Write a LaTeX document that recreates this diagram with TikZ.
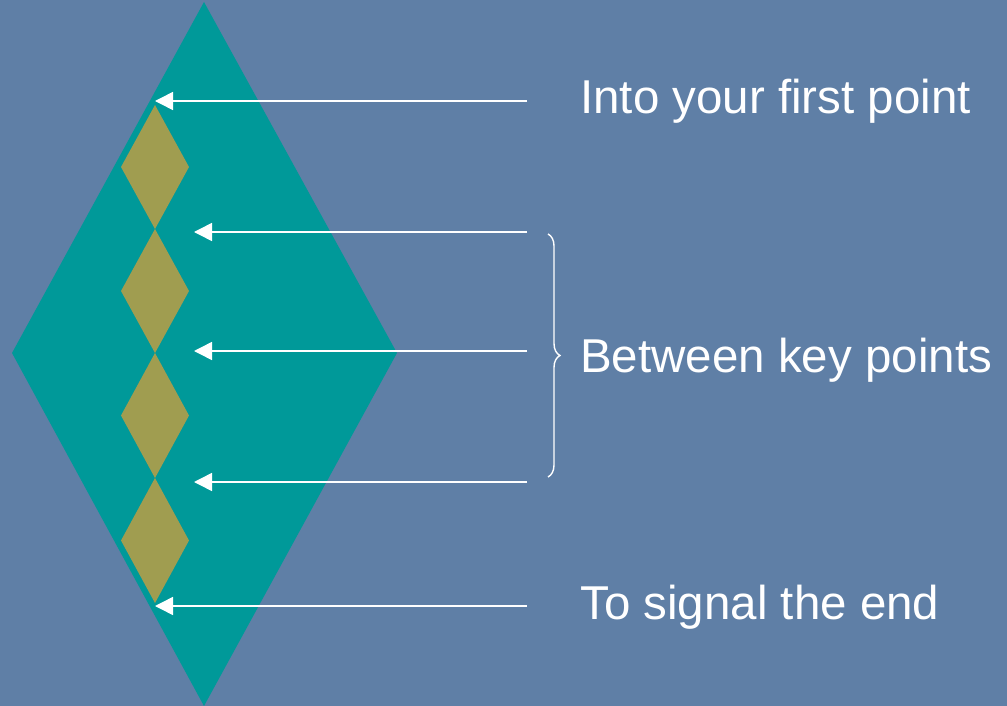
\documentclass[tikz,border=0pt]{standalone}
\usepackage{fontspec}
\setmainfont{Liberation Sans}
\usetikzlibrary{arrows.meta,decorations.pathreplacing}
\definecolor{bgblue}{HTML}{5F7FA6}
\definecolor{teal2}{HTML}{009999}
\definecolor{olive2}{HTML}{A09D50}
\tikzset{
  pointer/.style={draw=white,line width=1.5pt,-{Triangle[length=18pt,width=18pt]}},
  label/.style={anchor=base west,text=white,font=\fontsize{47.5}{52}\selectfont,inner sep=0pt},
  bigdia/.style={fill=teal2},
  smalldia/.style={fill=olive2},
  bracestyle/.style={draw=white,line width=1.4pt,decorate,decoration={brace,amplitude=12pt}}
}
\begin{document}
\begin{tikzpicture}[x=1pt,y=-1pt]
\fill[bgblue] (0,0) rectangle (1007,706);
\useasboundingbox (0,0) rectangle (1007,706);
% big diamond
\fill[bigdia] (204,2) -- (397,353) -- (204,706) -- (12,353) -- cycle;
% small diamonds
\foreach \t/\b in {105/229, 229/353, 353/478, 478/603}{
  \pgfmathsetmacro{\m}{(\t+\b)/2}
  \fill[smalldia] (155,\t) -- (189,\m) -- (155,\b) -- (121,\m) -- cycle;
}
% arrow targets
\coordinate (t1) at (155,101);
\coordinate (t2) at (194,232);
\coordinate (t3) at (194,351);
\coordinate (t4) at (194,482);
\coordinate (t5) at (155,606);
\coordinate (s1) at (527,101);
\coordinate (s2) at (527,232);
\coordinate (s3) at (527,351);
\coordinate (s4) at (527,482);
\coordinate (s5) at (527,606);
\foreach \i in {1,...,5}{ \draw[pointer] (s\i) -- (t\i); }
% brace
\coordinate (b1) at (548,234);
\coordinate (b2) at (548,477);
\draw[bracestyle] (b1) -- (b2);
% labels
\node[label] (l1) at (580,114) {Into your first point};
\node[label] (l2) at (580,372) {Between key points};
\node[label] (l3) at (580,619) {To signal the end};
\end{tikzpicture}
\end{document}
